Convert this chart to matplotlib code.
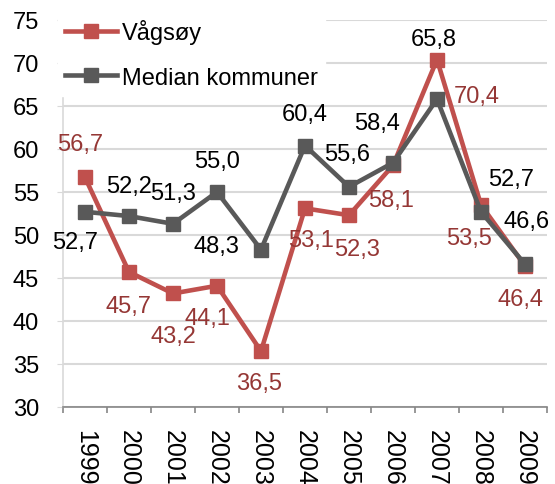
import numpy as np
import matplotlib
matplotlib.use("Agg")
import matplotlib.pyplot as plt

plt.rcParams['font.family'] = ['Liberation Sans', 'DejaVu Sans']

years = ['1999', '2000', '2001', '2002', '2003', '2004', '2005', '2006', '2007', '2008', '2009']
vagsoy = [56.7, 45.7, 43.2, 44.1, 36.5, 53.1, 52.3, 58.1, 70.4, 53.5, 46.4]
median = [52.7, 52.2, 51.3, 55.0, 48.3, 60.4, 55.6, 58.4, 65.8, 52.7, 46.6]

# label offsets in pixels (dx, dy), placed like the original
off_v = [(-5, 33), (0, -34), (0, -43), (-10, -32), (-2, -32), (6, -32),
         (8, -34), (-2, -35), (40, -36), (-12, -33), (-4, -33)]
off_m = [(-10, -30), (0, 30), (0, 31), (0, 31), (-45, 4), (0, 32),
         (-2, 33), (-16, 40), (-3, 60), (30, 33), (2, 43)]

red = '#C0504D'
red_txt = '#953735'
grey = '#595959'

fig = plt.figure(figsize=(5.55, 4.85), dpi=100)
ax = fig.add_axes([63/555, 1 - 408/485, (547-63)/555, (408-21)/485])

x = np.arange(len(years))
ax.plot(x, vagsoy, color=red, lw=3.3, marker='s', ms=10, label='Vågsøy', zorder=3)
ax.plot(x, median, color=grey, lw=3.3, marker='s', ms=10, label='Median kommuner', zorder=4)

for i in range(len(x)):
    ax.annotate(f"{vagsoy[i]:.1f}".replace('.', ','), (x[i], vagsoy[i]),
                xytext=off_v[i], textcoords='offset pixels', ha='center', va='center',
                fontsize=17, color=red_txt, zorder=6)
    ax.annotate(f"{median[i]:.1f}".replace('.', ','), (x[i], median[i]),
                xytext=off_m[i], textcoords='offset pixels', ha='center', va='center',
                fontsize=17, color='black', zorder=6)

ax.set_xlim(-0.5, len(years) - 0.5)
ax.set_ylim(30, 75)
ax.set_yticks(np.arange(30, 76, 5))
ax.tick_params(axis='y', labelsize=17, length=4.3, pad=13, color='#D9D9D9')

ax.set_xticks(x)
ax.set_xticklabels(years, rotation=270, fontsize=18)
ax.set_xticks(np.arange(-0.5, len(years)), minor=True)
ax.tick_params(axis='x', which='major', length=0, pad=16)
ax.tick_params(axis='x', which='minor', length=4, color='#868686', width=1.2)

ax.grid(axis='y', color='#D9D9D9', lw=1.5, zorder=0)
ax.set_axisbelow(True)
for s in ['top', 'right']:
    ax.spines[s].set_visible(False)
ax.spines['left'].set_color('#D9D9D9')
ax.spines['left'].set_linewidth(1.2)
ax.spines['bottom'].set_color('#868686')
ax.spines['bottom'].set_linewidth(1.2)

leg = ax.legend(loc='upper left', bbox_to_anchor=(58/555, 1 - 13/485),
                bbox_transform=fig.transFigure, fontsize=17, frameon=True,
                fancybox=False, handlelength=2.2, handletextpad=0.2,
                labelspacing=0.95, borderpad=0.3, borderaxespad=0)
leg.get_frame().set_facecolor('white')
leg.get_frame().set_edgecolor('white')
leg.get_frame().set_alpha(1)

fig.savefig('out.png', dpi=100)
